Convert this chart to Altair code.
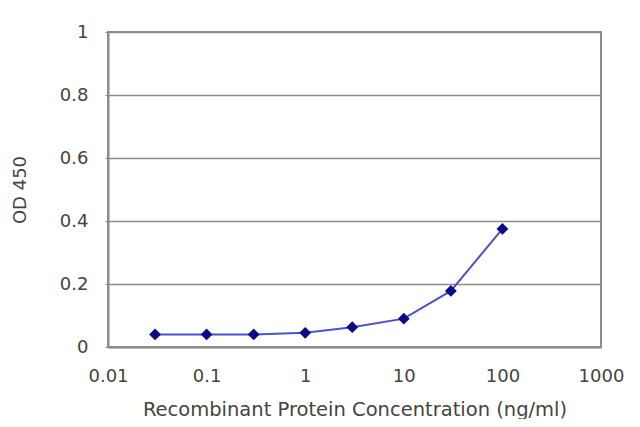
import altair as alt
import pandas as pd

concentration = [0.03, 0.1, 0.3, 1, 3, 10, 30, 100]
od450 = [0.04, 0.04, 0.04, 0.045, 0.063, 0.09, 0.178, 0.375]
x_ticks = [0.01, 0.1, 1, 10, 100, 1000]
y_ticks = [0, 0.2, 0.4, 0.6, 0.8, 1]

data = pd.DataFrame({"conc": concentration, "od": od450})

x_enc = alt.X(
    "conc:Q",
    title="Recombinant Protein Concentration (ng/ml)",
    scale=alt.Scale(type="log", domain=[0.01, 1000]),
    axis=alt.Axis(
        values=x_ticks, format="~g", grid=False, ticks=False, labelFlush=False,
        domainColor="#8c8c8c", domainWidth=2, labelPadding=20, titlePadding=15,
        titleFontSize=19.5,
    ),
)
y_enc = alt.Y(
    "od:Q",
    title="OD 450",
    scale=alt.Scale(domain=[0, 1]),
    axis=alt.Axis(
        values=y_ticks, format="~g", gridColor="#8c8c8c", gridWidth=1.5,
        tickSize=3, tickColor="#8c8c8c", domainColor="#8c8c8c", domainWidth=2,
        labelPadding=17, titlePadding=30, labelFlush=False,
    ),
)

line = alt.Chart(data).mark_line(color="#5050cc", strokeWidth=2).encode(x=x_enc, y=y_enc)
points = alt.Chart(data).mark_point(
    shape="diamond", filled=True, color="#0a0a8c", size=140, opacity=1
).encode(x="conc:Q", y="od:Q")

chart = (line + points).properties(
    width=493,
    height=315,
    autosize=alt.AutoSizeParams(type="none"),
    padding={"left": 100, "top": 24, "right": 31, "bottom": 72},
).configure_view(
    stroke="#8c8c8c", strokeWidth=2
).configure_axis(
    labelFont="DejaVu Sans", titleFont="DejaVu Sans",
    labelFontSize=18, titleFontSize=18, titleFontWeight="normal",
    labelColor="#444", titleColor="#444",
)

chart.save("out.html", embed_options={"renderer": "svg", "actions": False})
